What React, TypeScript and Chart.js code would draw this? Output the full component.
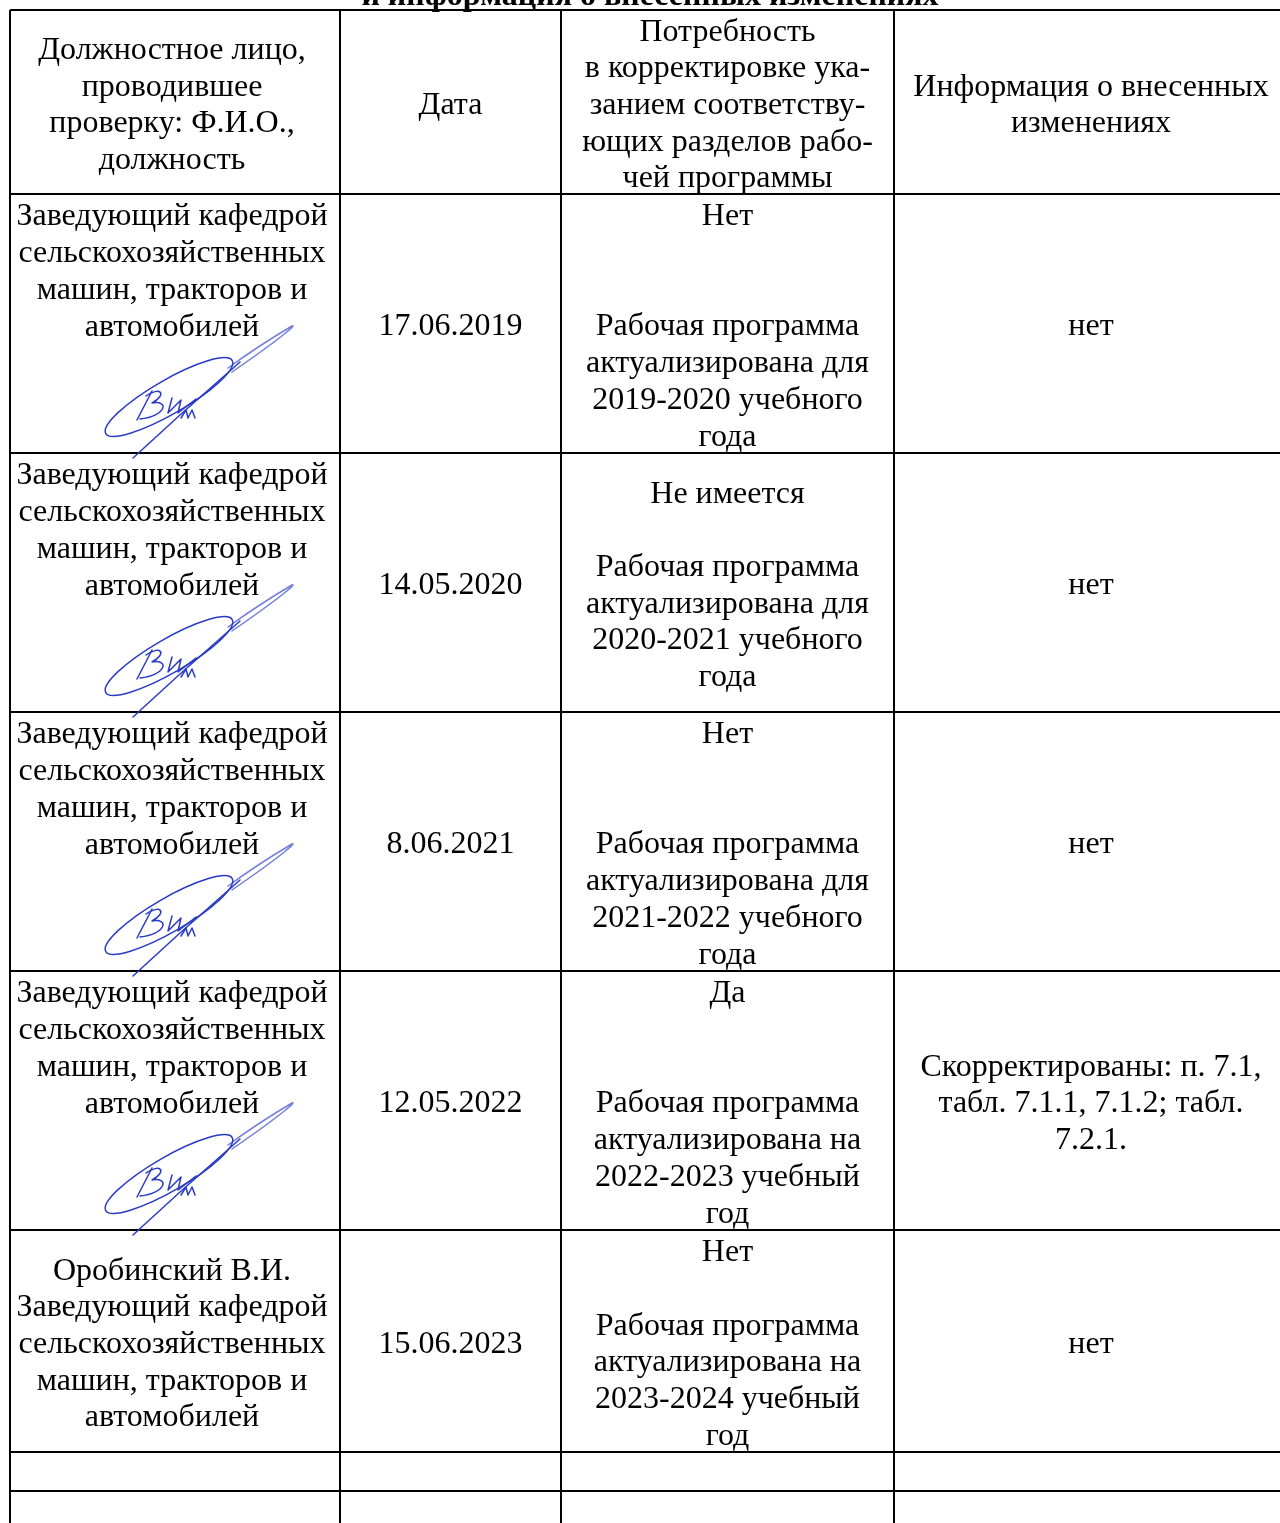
import React, { useEffect, useRef } from "react";
import { Chart, registerables } from "chart.js";

Chart.register(...registerables);

const titleText = "и информация о внесенных изменениях";

const headerLines: string[][] = [
  ["Должностное лицо,", "проводившее", "проверку: Ф.И.О.,", "должность"],
  ["Дата"],
  ["Потребность", "в корректировке ука-", "занием соответству-", "ющих разделов рабо-", "чей программы"],
  ["Информация о внесенных", "изменениях"],
];

const officials: string[][] = [
  ["Заведующий кафедрой", "сельскохозяйственных", "машин, тракторов и", "автомобилей"],
  ["Заведующий кафедрой", "сельскохозяйственных", "машин, тракторов и", "автомобилей"],
  ["Заведующий кафедрой", "сельскохозяйственных", "машин, тракторов и", "автомобилей"],
  ["Заведующий кафедрой", "сельскохозяйственных", "машин, тракторов и", "автомобилей"],
  ["Оробинский В.И.", "Заведующий кафедрой", "сельскохозяйственных", "машин, тракторов и", "автомобилей"],
];

const signed: boolean[] = [true, true, true, true, false];

const dates: string[] = ["17.06.2019", "14.05.2020", "8.06.2021", "12.05.2022", "15.06.2023"];

const needs: string[][] = [
  ["Нет", "", "", "Рабочая программа", "актуализирована для", "2019-2020 учебного", "года"],
  ["Не имеется", "", "Рабочая программа", "актуализирована для", "2020-2021 учебного", "года"],
  ["Нет", "", "", "Рабочая программа", "актуализирована для", "2021-2022 учебного", "года"],
  ["Да", "", "", "Рабочая программа", "актуализирована на", "2022-2023 учебный", "год"],
  ["Нет", "", "Рабочая программа", "актуализирована на", "2023-2024 учебный", "год"],
];

const changes: string[][] = [
  ["нет"],
  ["нет"],
  ["нет"],
  ["Скорректированы: п. 7.1,", "табл. 7.1.1, 7.1.2; табл.", "7.2.1."],
  ["нет"],
];

// layout (document units, measured from the table's top-left corner)
const COL_EDGES = [0, 330, 551, 884];
const COL_CENTERS = [162, 440.5, 717.5, 1081];
const ROW_EDGES = [0, 184, 443, 702, 961, 1220, 1442, 1481];
const LINE_H = 36.7;
const FONT = "32px 'Liberation Serif', 'Times New Roman', serif";
const SIG_COLOR = "#2a3bc6";

function drawSignature(ctx: CanvasRenderingContext2D, ox: number, oy: number) {
  const P = (x: number, y: number): [number, number] => [ox + x - 10, oy + y - 194];
  ctx.save();
  ctx.strokeStyle = SIG_COLOR;
  ctx.lineWidth = 1.5;
  ctx.lineCap = "round";
  ctx.lineJoin = "round";
  const path = (pts: number[][], kind: string[]) => {
    ctx.beginPath();
    let i = 0;
    for (const k of kind) {
      if (k === "M") { const p = P(pts[i][0], pts[i][1]); ctx.moveTo(p[0], p[1]); i += 1; }
      else if (k === "L") { const p = P(pts[i][0], pts[i][1]); ctx.lineTo(p[0], p[1]); i += 1; }
      else if (k === "C") {
        const a = P(pts[i][0], pts[i][1]), b = P(pts[i + 1][0], pts[i + 1][1]), c = P(pts[i + 2][0], pts[i + 2][1]);
        ctx.bezierCurveTo(a[0], a[1], b[0], b[1], c[0], c[1]);
        i += 3;
      }
    }
    ctx.stroke();
  };
  // big ellipse
  const c = P(169, 397);
  ctx.beginPath();
  ctx.ellipse(c[0], c[1], 73, 17, (-30 * Math.PI) / 180, 0, Math.PI * 2);
  ctx.stroke();
  // thin tail to the upper right
  ctx.globalAlpha = 0.65;
  path([[228, 368], [250, 352], [275, 336], [292, 326], [296, 324], [290, 332], [232, 372]], ["M", "C", "C"]);
  ctx.globalAlpha = 1;
  // long straight stroke
  path([[133, 458], [180, 415], [240, 362]], ["M", "L", "L"]);
  // letters
  path([[137, 420], [152, 391]], ["M", "L"]);
  path([[146, 396], [160, 386], [168, 394], [152, 403], [170, 400], [166, 416], [140, 419]], ["M", "C", "C"]);
  path([[172, 398], [168, 413], [181, 400], [178, 413], [196, 399]], ["M", "L", "L", "L", "L"]);
  path([[181, 418], [186, 410], [188, 418], [192, 410], [195, 418]], ["M", "L", "L", "L", "L"]);
  ctx.restore();
}

const tablePlugin = {
  id: "tableText",
  afterDraw(chart: any) {
    const ctx: CanvasRenderingContext2D = chart.ctx;
    const xs = chart.scales.x;
    const ys = chart.scales.y;
    const px = (v: number) => xs.getPixelForValue(v);
    const py = (v: number) => ys.getPixelForValue(v);
    ctx.save();
    ctx.fillStyle = "#000";
    ctx.textAlign = "center";

    // title (mostly cut off at the top)
    ctx.font = "bold " + FONT;
    ctx.textBaseline = "alphabetic";
    ctx.fillText(titleText, 650, 4.5);

    ctx.font = FONT;
    ctx.textBaseline = "middle";
    const centered = (lines: string[], col: number, top: number, bottom: number) => {
      const cy = (py(top) + py(bottom)) / 2 + 3.5;
      const start = cy - ((lines.length - 1) * LINE_H) / 2;
      lines.forEach((t, i) => { if (t) ctx.fillText(t, px(COL_CENTERS[col]), start + i * LINE_H); });
    };
    const topAligned = (lines: string[], col: number, top: number) => {
      const start = py(top) + 23;
      lines.forEach((t, i) => { if (t) ctx.fillText(t, px(COL_CENTERS[col]), start + i * LINE_H); });
    };

    headerLines.forEach((lines, col) => centered(lines, col, ROW_EDGES[0], ROW_EDGES[1]));

    for (let r = 0; r < dates.length; r++) {
      const top = ROW_EDGES[r + 1];
      const bottom = ROW_EDGES[r + 2];
      if (signed[r]) topAligned(officials[r], 0, top);
      else centered(officials[r], 0, top, bottom);
      centered([dates[r]], 1, top, bottom);
      centered(needs[r], 2, top, bottom);
      centered(changes[r], 3, top, bottom);
    }
    for (let r = 0; r < dates.length; r++) {
      if (signed[r]) drawSignature(ctx, px(0), py(ROW_EDGES[r + 1]));
    }
    ctx.restore();
  },
};

export default function App() {
  const ref = useRef<HTMLCanvasElement | null>(null);
  useEffect(() => {
    if (!ref.current) return;
    const chart = new Chart(ref.current, {
      type: "scatter",
      data: { datasets: [] },
      options: {
        animation: false,
        responsive: false,
        devicePixelRatio: 1,
        layout: { padding: { left: 10, top: 10, right: 0, bottom: 0 } },
        plugins: { legend: { display: false }, tooltip: { enabled: false } },
        scales: {
          x: {
            type: "linear",
            min: 0,
            max: 1270,
            border: { display: false },
            ticks: { display: false },
            grid: { color: "#000", lineWidth: 2, drawTicks: false },
            afterBuildTicks: (s: any) => { s.ticks = COL_EDGES.map((v) => ({ value: v })); },
          },
          y: {
            type: "linear",
            reverse: true,
            min: 0,
            max: 1513,
            border: { display: false },
            ticks: { display: false },
            grid: { color: "#000", lineWidth: 2, drawTicks: false },
            afterBuildTicks: (s: any) => { s.ticks = ROW_EDGES.map((v) => ({ value: v })); },
          },
        },
      },
      plugins: [tablePlugin],
    });
    return () => chart.destroy();
  }, []);
  return (
    <div style={{ position: "absolute", left: 0, top: 0, width: 1280, height: 1523, background: "#fff" }}>
      <canvas ref={ref} width={1280} height={1523} style={{ display: "block" }} />
    </div>
  );
}
